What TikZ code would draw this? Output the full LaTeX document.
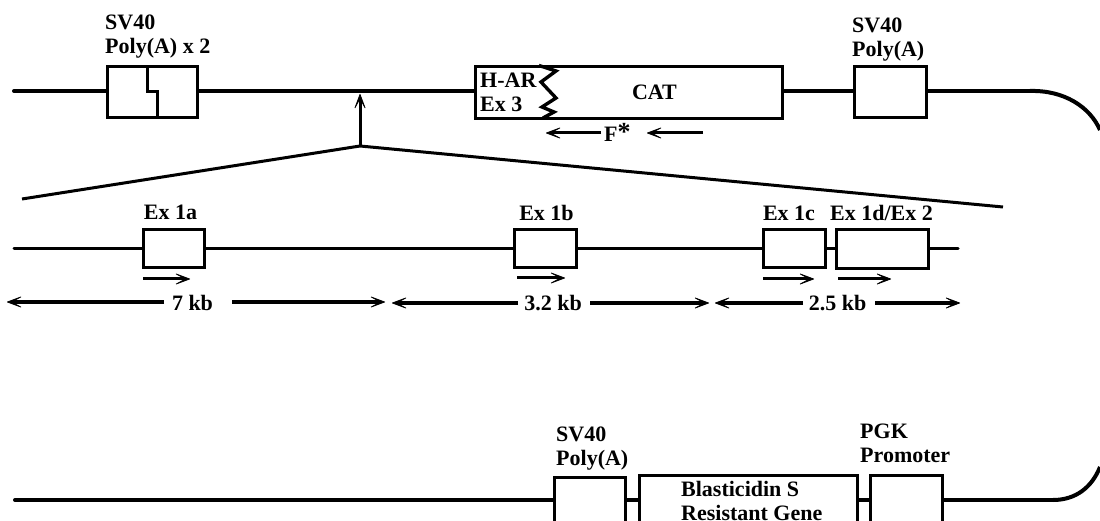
\documentclass[tikz,border=0pt]{standalone}
\usepackage{fontspec}
\setmainfont{Liberation Serif}
\usetikzlibrary{arrows.meta}
\tikzset{
  x=1pt,y=-1pt,
  lab/.style={font=\bfseries\fontsize{22}{24}\selectfont,align=left,inner sep=0,anchor=north west},
  clab/.style={font=\bfseries\fontsize{22}{24}\selectfont,inner sep=0,anchor=base},
  bx/.style={draw=black,fill=white,line width=3pt,inner sep=0,minimum width=#1},
  thick line/.style={line width=4pt,line cap=round},
  mid line/.style={line width=3pt,line cap=round},
  ar/.style={line width=3pt,-{Stealth[length=20pt,width=15pt,inset=14pt,line width=.8pt,round]}},
  ral/.style={bx=#1,minimum height=51pt},
  rbl/.style={bx=#1,minimum height=38pt},
}
\begin{document}
\begin{tikzpicture}
\useasboundingbox (0,0) rectangle (1100,521);
\clip (0,0) rectangle (1100,521);
% top backbone
\coordinate (tl) at (14,91);
\coordinate (tr) at (1030,91);
\coordinate (tc) at (1100,130);
\draw[thick line] (tl) -- (tr);
\draw[line width=4pt] (tr) .. controls (1064,90) and (1090,107) .. (tc);
\node[ral=90pt] (polyx2) at (152,92.5) {};
\coordinate (n1) at (147,67); \coordinate (n2) at (147,92); \coordinate (n3) at (157,92); \coordinate (n4) at (157,118);
\draw[line width=3pt] (n1) -- (n2) -- (n3) -- (n4);
\node[ral=307pt,minimum height=52pt] (cat) at (628.5,93) {};
\node[ral=72pt] (polyr) at (890.5,92.5) {};
\coordinate (z0) at (539,65.5); \coordinate (z1) at (556,71); \coordinate (z2) at (541,82); \coordinate (z3) at (556,98);
\coordinate (z4) at (542,107); \coordinate (z5) at (554,112); \coordinate (z6) at (543,118);
\draw[line width=3.4pt] (z0) -- (z1) -- (z2) -- (z3) -- (z4) -- (z5) -- (z6);
\node[lab] (t1) at (105,15) {SV40\\Poly(A) x 2};
\node[lab] (t2) at (852,18) {SV40\\Poly(A)};
\node[lab] (t3) at (480,73) {H-AR\\Ex 3};
\node[clab] (t4) at (654.5,100) {CAT};
\node[clab,anchor=base west] (fs) at (604,142) {F\raisebox{1pt}{\fontsize{26}{26}\selectfont *}};
\coordinate (fa1) at (601,133); \coordinate (fa2) at (546,133);
\coordinate (fb1) at (703,133); \coordinate (fb2) at (647,133);
\draw[ar] (fa1) -- (fa2);
\draw[ar] (fb1) -- (fb2);
% insertion
\coordinate (ins) at (360,146); \coordinate (insT) at (360,94);
\coordinate (wl) at (22,199); \coordinate (wr) at (1003,207);
\draw[line width=3pt] (wl) -- (ins) -- (wr);
\draw[ar] (ins) -- (insT);
% middle line
\coordinate (ml) at (14,249); \coordinate (mr) at (958,249);
\draw[mid line] (ml) -- (mr);
\node[rbl=61pt] (e1a) at (173.5,249) {};
\node[rbl=62pt] (e1b) at (545.5,249) {};
\node[rbl=62pt] (e1c) at (794.5,249) {};
\node[rbl=92pt,minimum height=39pt] (e1d) at (882.5,249.5) {};
\node[clab] (l1a) at (170.5,220) {Ex 1a};
\node[clab] (l1b) at (546.5,221) {Ex 1b};
\node[clab] (l1c) at (789,221) {Ex 1c};
\node[clab] (l1d) at (881.5,221) {Ex 1d/Ex 2};
\foreach \n/\a/\b/\y in {a/143/190/279,b/517/565/278,c/763/814/279,d/838/891/279}{
  \coordinate (p\n) at (\a,\y); \coordinate (q\n) at (\b,\y);
  \draw[ar] (p\n) -- (q\n);
}
% distances
\node[clab] (d1) at (192.5,310) {7 kb};
\node[clab] (d2) at (553,310) {3.2 kb};
\node[clab] (d3) at (837.5,310) {2.5 kb};
\coordinate (d1lt) at (164,302); \coordinate (d1l) at (7,302);
\coordinate (d1rt) at (232,302); \coordinate (d1r) at (385,302);
\coordinate (d2lt) at (518,303); \coordinate (d2l) at (392,303);
\coordinate (d2rt) at (590,303); \coordinate (d2r) at (709,303);
\coordinate (d3lt) at (803,303); \coordinate (d3l) at (715,303);
\coordinate (d3rt) at (875,303); \coordinate (d3r) at (960,303);
\draw[ar] (d1lt) -- (d1l);
\draw[ar] (d1rt) -- (d1r);
\draw[ar] (d2lt) -- (d2l);
\draw[ar] (d2rt) -- (d2r);
\draw[ar] (d3lt) -- (d3l);
\draw[ar] (d3rt) -- (d3r);
% bottom line
\coordinate (bl) at (15,500); \coordinate (br) at (1053,500); \coordinate (bc) at (1100,467);
\draw[thick line] (bl) -- (br);
\draw[line width=4pt] (br) .. controls (1076,500) and (1092,487) .. (bc);
\node[bx=71pt,minimum height=60pt,anchor=north] (sv) at (589.5,476) {};
\node[bx=218pt,minimum height=60pt,anchor=north] (bs) at (748,473.5) {};
\node[bx=72pt,minimum height=60pt,anchor=north] (pgk) at (906,473.5) {};
\node[lab] (l5) at (556,427) {SV40\\Poly(A)};
\node[lab] (l6) at (860,424) {PGK\\Promoter};
\node[lab] (l7) at (681,481) {Blasticidin S\\Resistant Gene};
\end{tikzpicture}
\end{document}
